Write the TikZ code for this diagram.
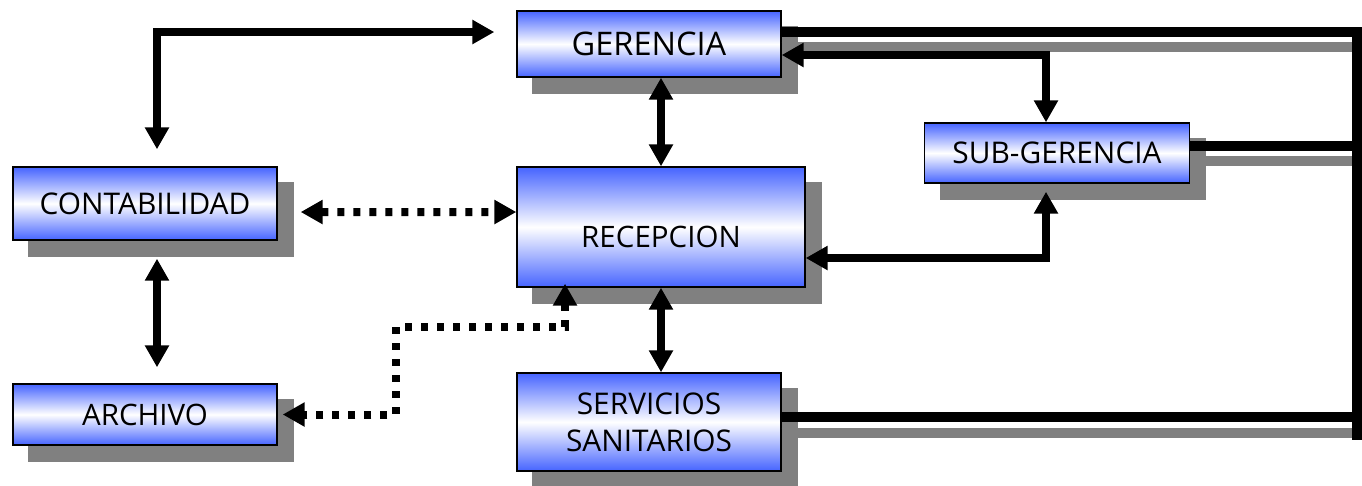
\documentclass[tikz,border=0pt]{standalone}
\usepackage{fontspec}
\setmainfont{Open Sans}
\usetikzlibrary{arrows.meta,backgrounds}

\definecolor{boxblue}{RGB}{70,100,255}
\definecolor{shadegray}{RGB}{128,128,128}

\begin{document}
\begin{tikzpicture}[
  x=0.02cm, y=-0.02cm,
  unit/.style={draw=black,line width=0.8pt,inner sep=0pt,align=center,
    top color=boxblue,bottom color=boxblue,middle color=white,
    font=\fontsize{16.8}{21}\selectfont},
  link/.style={line width=0.16cm,
    {Triangle[length=0.44cm,width=0.46cm]}-{Triangle[length=0.44cm,width=0.46cm]}},
  dotlink/.style={link,dash pattern=on 0.14cm off 0.18cm},
  busline/.style={line width=0.21cm,black},
  busshade/.style={line width=0.21cm,shadegray}
]
\useasboundingbox (0,0) rectangle (1362,485);

% units
\node[unit,minimum width=5.28cm,minimum height=1.32cm,font=\fontsize{18.5}{22}\selectfont]
  (gerencia) at (649,44) {GERENCIA};
\node[unit,minimum width=5.30cm,minimum height=1.20cm,font=\fontsize{17}{20}\selectfont]
  (subgerencia) at (1057,153) {SUB-GERENCIA};
\node[unit,minimum width=5.76cm,minimum height=2.40cm,text height=0.84cm]
  (recepcion) at (661,227) {RECEPCION};
\node[unit,minimum width=5.28cm,minimum height=1.46cm,font=\fontsize{17}{21}\selectfont]
  (contabilidad) at (145,203.5) {CONTABILIDAD};
\node[unit,minimum width=5.28cm,minimum height=1.22cm]
  (archivo) at (145,414.5) {ARCHIVO};
\node[unit,minimum width=5.28cm,minimum height=1.96cm,font=\fontsize{17}{21}\selectfont]
  (servicios) at (649,422) {SERVICIOS\\SANITARIOS};

% shadows
\begin{pgfonlayer}{background}
\foreach \n in {gerencia,subgerencia,recepcion,contabilidad,archivo,servicios}
  \fill[shadegray] ([shift={(16,16)}]\n.south west) rectangle ([shift={(16,16)}]\n.north east);
\end{pgfonlayer}

% bus on the right
\coordinate (bustop) at (1357,27);
\coordinate (busend) at (1357,440);
\draw[busshade] ([yshift=-0.06cm]gerencia.east) -- ([yshift=-0.06cm]gerencia.east -| bustop);
\draw[busshade] ([yshift=-0.16cm]subgerencia.east) -- ([yshift=-0.16cm]subgerencia.east -| bustop);
\draw[busshade] ([yshift=-0.22cm]servicios.east) -- ([yshift=-0.22cm]servicios.east -| bustop);
\draw[busline] ([yshift=0.24cm]gerencia.east) -- ([yshift=0.24cm]gerencia.east -| bustop);
\draw[busline] ([yshift=0.14cm]subgerencia.east) -- ([yshift=0.14cm]subgerencia.east -| bustop);
\draw[busline] ([yshift=0.10cm]servicios.east) -- ([yshift=0.10cm]servicios.east -| bustop);
\draw[busline] (bustop) -- (busend);

% links
\draw[link] ([xshift=0.24cm,yshift=0.34cm]contabilidad.north) |- ([xshift=-0.44cm,yshift=0.24cm]gerencia.west);
\draw[link] (recepcion.north) -- (recepcion.north |- gerencia.south);
\draw[link] ([yshift=-0.22cm]gerencia.east) -| ([xshift=-0.22cm]subgerencia.north);
\draw[link] ([yshift=-0.62cm]recepcion.east) -| ([xshift=-0.22cm,yshift=-0.16cm]subgerencia.south);
\draw[link] (recepcion.south) -- (recepcion.south |- servicios.north);
\draw[link] ([xshift=0.24cm,yshift=-0.36cm]contabilidad.south) -- ([xshift=0.24cm,yshift=0.32cm]archivo.north);

% dotted links
\coordinate (bend) at (396,327);
\draw[dotlink] ([xshift=0.46cm,yshift=-0.17cm]contabilidad.east) -- ([yshift=0.30cm]recepcion.west);
\draw[dotlink] ([xshift=-1.92cm,yshift=0.08cm]recepcion.south) |- (bend) |- ([xshift=0.10cm]archivo.east);
\end{tikzpicture}
\end{document}
